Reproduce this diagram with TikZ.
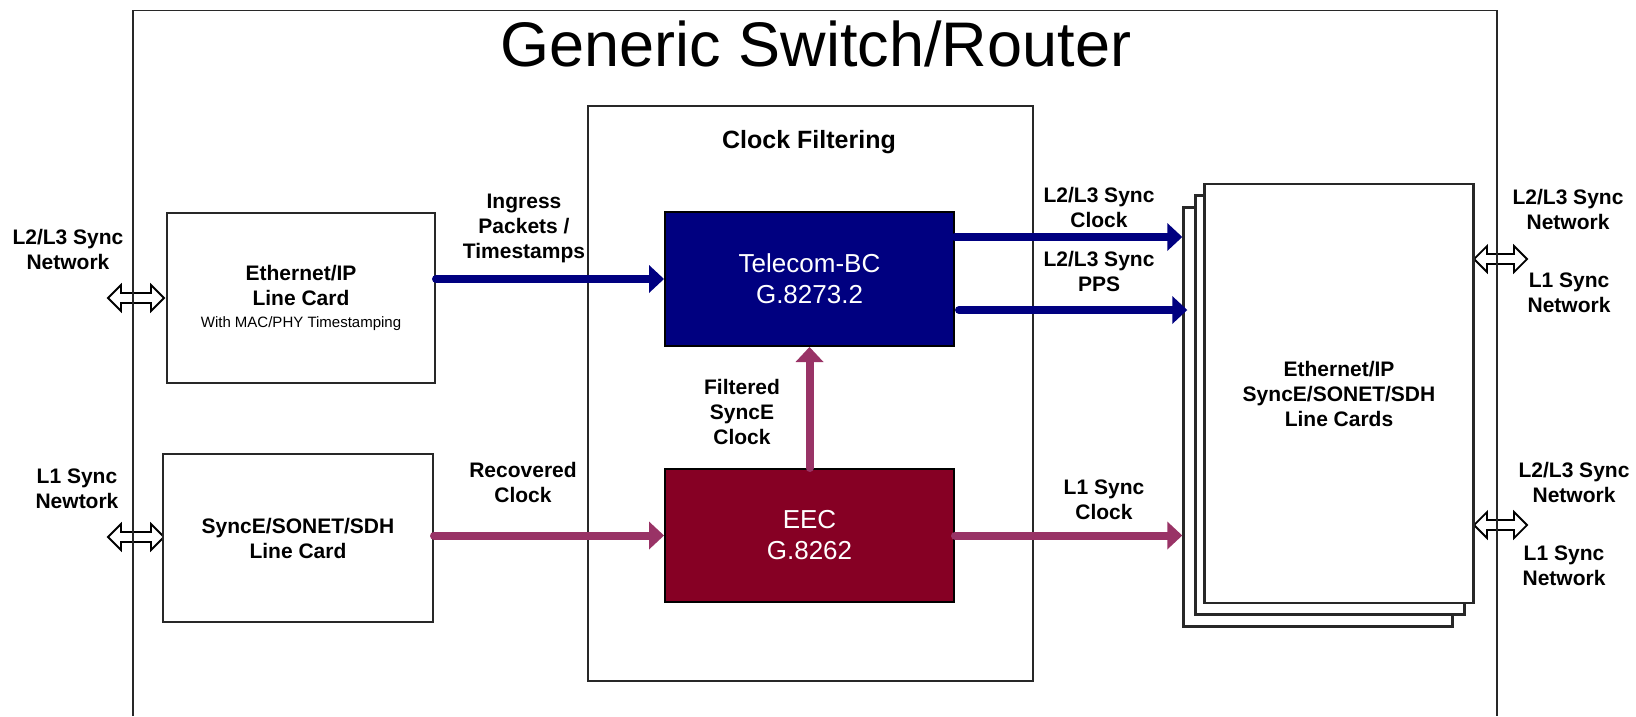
\documentclass[tikz,border=0pt]{standalone}
\usepackage{fontspec}
\setmainfont{Liberation Sans}
\usetikzlibrary{arrows.meta}
\definecolor{navyc}{RGB}{0,0,128}
\definecolor{eecred}{RGB}{134,0,36}
\definecolor{plum}{RGB}{153,51,102}
\definecolor{framec}{RGB}{40,40,40}
\newcommand\hollowdbl[3]{% start coordinate, shaft length, unused
  \draw[hollow] (#1) -- ++(13,-13) -- ++(0,8) -- ++(#2,0) -- ++(0,-8) -- ++(13,13)
     -- ++(-13,13) -- ++(0,-8) -- ++(-#2,0) -- ++(0,8) -- cycle;}
\begin{document}
\begin{tikzpicture}[x=1pt,y=-1pt,
  box/.style={draw=framec, line width=2pt, fill=white, inner sep=0pt, align=center,
              font=\fontsize{21}{25}\selectfont\bfseries},
  lbl/.style={font=\fontsize{21}{25}\selectfont\bfseries, align=center, inner sep=0pt},
  darkbox/.style={draw=black, line width=2pt, inner sep=0pt, align=center, text=white,
              font=\fontsize{26}{31}\selectfont},
  navyarrow/.style={draw=navyc, line width=8pt, line cap=round,
              -{Triangle[length=15pt,width=28pt,line width=0pt]}},
  plumarrow/.style={draw=plum, line width=8pt, line cap=round,
              -{Triangle[length=15pt,width=28pt,line width=0pt]}},
  hollow/.style={draw=black, line width=1.8pt},
  card/.style={draw=framec, line width=2.5pt, fill=white, inner sep=0pt,
              minimum width=269pt, minimum height=419pt}
]
\useasboundingbox (0,0) rectangle (1636,716);
\fill[white] (0,0) rectangle (1636,716);

% hollow double arrows (drawn first, frame lines pass through them)
\coordinate (hl1) at (108,298);
\coordinate (hl2) at (108,537);
\coordinate (hr1) at (1474,259);
\coordinate (hr2) at (1474,525);
\hollowdbl{hl1}{30}{}
\hollowdbl{hl2}{30}{}
\hollowdbl{hr1}{27}{}
\hollowdbl{hr2}{27}{}

% outer frame
\coordinate (fbl) at (133,716);
\coordinate (ftl) at (133,10.5);
\coordinate (ftr) at (1497,10.5);
\coordinate (fbr) at (1497,716);
\draw[framec, line width=1.8pt] (fbl) -- (ftl) -- (ftr) -- (fbr);
\node[anchor=base, inner sep=0pt, font=\fontsize{63}{70}\selectfont] (title) at (816,66) {Generic Switch/Router};

% clock filtering box
\node[draw=framec, line width=1.6pt, minimum width=445pt, minimum height=575pt, inner sep=0pt] (cf) at (810.5,393.5) {};
\node[inner sep=0pt, font=\fontsize{25}{30}\selectfont\bfseries] (cft) at (809,142) {Clock Filtering};

% line cards on left
\node[box, minimum width=268pt, minimum height=170pt] (eth) at (301,298)
  {Ethernet/IP\\Line Card\\[-3pt]{\fontsize{15}{18}\selectfont\mdseries With MAC/PHY Timestamping}};
\node[box, minimum width=270pt, minimum height=168pt] (sync) at (298,538)
  {SyncE/SONET/SDH\\Line Card};

% central blocks
\node[darkbox, fill=navyc, minimum width=289pt, minimum height=134pt] (tbc) at (809.5,279)
  {Telecom-BC\\G.8273.2};
\node[darkbox, fill=eecred, minimum width=289pt, minimum height=133pt] (eec) at (809.5,535.5)
  {EEC\\G.8262};

% stacked line cards on right
\node[card] (back) at (1318,417) {};
\node[card] (mid) at (1330,405) {};
\node[card, font=\fontsize{21}{25}\selectfont\bfseries, align=center] (front) at (1339,393.5)
  {Ethernet/IP\\SyncE/SONET/SDH\\Line Cards};

% connectors
\draw[navyarrow] (eth.east |- tbc.west) -- (tbc.west);
\draw[plumarrow] (sync.east |- eec.west) -- (eec.west);
\draw[plumarrow] (eec.north) -- (tbc.south);
\coordinate (o1) at ([yshift=42pt]tbc.east);
\coordinate (o2) at ([yshift=-31pt]tbc.east);
\draw[navyarrow] (o1) -- (o1 -| back.west);
\draw[navyarrow] ([xshift=4pt]o2) -- ([xshift=5pt]o2 -| back.west);
\draw[plumarrow] (eec.east) -- (eec.east -| back.west);

% labels
\node[lbl] (l1) at (68,249) {L2/L3 Sync\\Network};
\node[lbl] (l2) at (77,489) {L1 Sync\\Newtork};
\node[lbl] (l3) at (524,228) {Ingress\\Packets /\\Timestamps};
\node[lbl] (l4) at (523,482) {Recovered\\Clock};
\node[lbl] (l5) at (742,412) {Filtered\\SyncE\\Clock};
\node[lbl] (l6) at (1099,207) {L2/L3 Sync\\Clock};
\node[lbl] (l7) at (1099,271) {L2/L3 Sync\\PPS};
\node[lbl] (l8) at (1104,500) {L1 Sync\\Clock};
\node[lbl] (r1) at (1568,209) {L2/L3 Sync\\Network};
\node[lbl] (r2) at (1569,293) {L1 Sync\\Network};
\node[lbl] (r3) at (1574,482) {L2/L3 Sync\\Network};
\node[lbl] (r4) at (1564,566) {L1 Sync\\Network};
\end{tikzpicture}
\end{document}
